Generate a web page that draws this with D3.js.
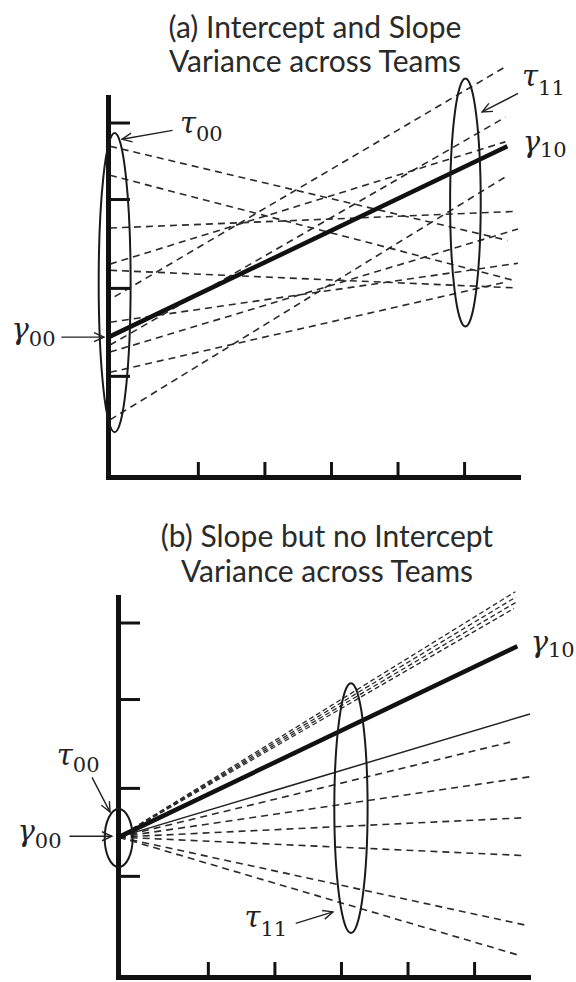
<!DOCTYPE html>
<html><head><meta charset="utf-8">
<script src="https://cdn.jsdelivr.net/npm/d3@7"></script>
<style>body{margin:0;background:#fff}svg{display:block}</style>
</head><body>
<script>
// ---------- data ----------
const xTicks = [1, 2, 3, 4, 5];
const yTicks = [1.15, 2.15, 3.16, 4.03];
const xDomain = [-0.35, 5.81];
const yDomain = [0, 4.32];

const titleA = ["(a) Intercept and Slope", "Variance across Teams"];
const titleB = ["(b) Slope but no Intercept", "Variance across Teams"];

// Panel (a): fixed line gamma00 -> gamma10 [x0, y0, x1, y1]
const aFixed = [-0.34, 1.59, 5.65, 3.76];
// Panel (a): team lines (intercept and slope vary)
const aStartX = [-0.32, -0.32, -0.32, -0.32, -0.32, -0.25, -0.32, -0.32, -0.32, -0.32, -0.32];
const aStartY = [3.76, 3.43, 2.83, 2.42, 2.35, 2.05, 1.76, 1.42, 1.19, 0.65, 1.50];
const aEndX   = [5.65, 5.77, 5.80, 5.62, 5.77, 5.59, 5.81, 5.81, 5.59, 5.66, 5.62];
const aEndY   = [2.69, 2.23, 3.02, 3.81, 2.15, 4.65, 2.43, 2.82, 2.21, 3.43, 4.09];
// Panel (a) ellipses
const aEllCx = [-0.25, 5.02];
const aEllCy = [2.21, 3.12];
const aEllRx = [0.24, 0.23];
const aEllRy = [1.70, 1.41];

// Panel (b): common origin, fixed line, thin solid line, team lines
const bOrigin = [-0.34, 1.59];
const bFixedEnd = [5.65, 3.76];
const bThinEnd = [5.84, 2.99];
const bEndX = [5.62, 5.63, 5.63, 5.60, 5.54, 5.87, 5.74, 5.77, 5.77, 5.66];
const bEndY = [4.38, 4.32, 4.26, 4.19, 2.67, 2.28, 1.81, 1.38, 0.59, 0.25];
const bFine = [true, true, true, true, false, false, false, false, false, false];
// Panel (b) ellipses
const bEllCx = [-0.34, 3.15];
const bEllCy = [1.58, 1.92];
const bEllRx = [0.21, 0.25];
const bEllRy = [0.33, 1.42];

// Annotations: [greek, subscript, x, y, subscript shift]
const aLabels = [["τ","00",0.73,3.91,8],["γ","00",-1.80,1.57,7],["τ","11",5.87,4.45,9],["γ","10",5.88,3.69,5]];
const bLabels = [["τ","00",-1.27,2.41,7],["γ","00",-1.86,1.55,7],["τ","11",1.55,0.57,9],["γ","10",5.85,3.69,5]];
// Arrows: [x0, y0, x1, y1]
const aArrows = [[0.62,3.94,-0.14,3.84],[-1.05,1.59,-0.41,1.59],[5.81,4.36,5.27,4.15]];
const bArrows = [[-0.74,2.27,-0.47,1.875],[-1.08,1.60,-0.44,1.60],[2.32,0.61,2.88,0.74]];

// ---------- drawing ----------
const W = 576, H = 982;
const svg = d3.select("body").append("svg").attr("width", W).attr("height", H);
svg.append("rect").attr("width", W).attr("height", H).attr("fill", "#fff");

const defs = svg.append("defs");
defs.append("marker").attr("id", "arr").attr("viewBox", "0 0 12 12")
  .attr("refX", 11).attr("refY", 6).attr("markerWidth", 12).attr("markerHeight", 12)
  .attr("markerUnits", "userSpaceOnUse").attr("orient", "auto")
  .append("path").attr("d", "M1,1.5 L11,6 L1,10.5").attr("fill", "none")
  .attr("stroke", "#222").attr("stroke-width", 1.4);

const x = d3.scaleLinear().domain(xDomain).range([108, 518]);
const y = d3.scaleLinear().domain(yDomain).range([477, 97]);
const line = d3.line().x(d => x(d[0])).y(d => y(d[1]));

function title(lines, cx, baselines, widths) {
  lines.forEach((t, i) => {
    const el = svg.append("text").attr("x", cx).attr("y", baselines[i])
      .attr("text-anchor", "middle").attr("font-family", "Lato, 'Open Sans', sans-serif")
      .attr("font-size", 26).attr("fill", "#2a2a2a").text(t);
    const w = el.node().getComputedTextLength();
    el.attr("font-size", Math.min(30, 26 * widths[i] / w));
  });
}
title(titleA, 315, [38, 72], [305, 298]);
title(titleB, 327, [547, 582], [347, 302]);

function axes(g) {
  const ax = g.append("g").attr("transform", `translate(0,${y(0)})`)
    .call(d3.axisBottom(x).tickValues(xTicks).tickSize(-15).tickSizeOuter(0).tickFormat(""));
  const ay = g.append("g").attr("transform", `translate(${x(xDomain[0])},0)`)
    .call(d3.axisLeft(y).tickValues(yTicks).tickSize(-22).tickSizeOuter(0).tickFormat(""));
  [ax, ay].forEach(a => {
    a.select(".domain").attr("stroke", "#111").attr("stroke-width", 5).attr("stroke-linecap", "square");
    a.selectAll(".tick line").attr("stroke", "#111").attr("stroke-width", 3);
  });
}

function ellipses(g, cx, cy, rx, ry) {
  cx.forEach((c, i) => {
    g.append("ellipse").attr("cx", x(c)).attr("cy", y(cy[i]))
      .attr("rx", x(c + rx[i]) - x(c)).attr("ry", y(cy[i] - ry[i]) - y(cy[i]))
      .attr("fill", "none").attr("stroke", "#1a1a1a").attr("stroke-width", 2);
  });
}

function labels(g, list) {
  list.forEach(([gr, sub, lx, ly, dy]) => {
    const t = g.append("text").attr("x", x(lx)).attr("y", y(ly))
      .attr("font-family", "'DejaVu Serif', serif").attr("fill", "#222");
    t.append("tspan").attr("font-size", 29).attr("font-style", "italic").text(gr);
    t.append("tspan").attr("font-size", 21).attr("dy", dy).text(sub);
  });
}

function arrows(g, list) {
  list.forEach(a => {
    g.append("path").attr("d", line([[a[0], a[1]], [a[2], a[3]]]))
      .attr("stroke", "#222").attr("stroke-width", 1.4).attr("fill", "none")
      .attr("marker-end", "url(#arr)");
  });
}

// Panel (a)
const gA = svg.append("g");
aStartX.forEach((sx, i) => {
  gA.append("path").attr("d", line([[sx, aStartY[i]], [aEndX[i], aEndY[i]]]))
    .attr("stroke", "#2a2a2a").attr("stroke-width", 1.6).attr("stroke-dasharray", "7,5").attr("fill", "none");
});
gA.append("path").attr("d", line([[aFixed[0], aFixed[1]], [aFixed[2], aFixed[3]]]))
  .attr("stroke", "#111").attr("stroke-width", 4.5).attr("fill", "none");
axes(gA);
ellipses(gA, aEllCx, aEllCy, aEllRx, aEllRy);
labels(gA, aLabels);
arrows(gA, aArrows);

// Panel (b)
const gB = svg.append("g").attr("transform", "translate(10,500)");
bEndX.forEach((ex, i) => {
  gB.append("path").attr("d", line([bOrigin, [ex, bEndY[i]]]))
    .attr("stroke", "#2a2a2a").attr("stroke-width", bFine[i] ? 1.3 : 1.6)
    .attr("stroke-dasharray", bFine[i] ? "5,3" : "7,5").attr("fill", "none");
});
gB.append("path").attr("d", line([bOrigin, bThinEnd]))
  .attr("stroke", "#222").attr("stroke-width", 1.5).attr("fill", "none");
gB.append("path").attr("d", line([bOrigin, bFixedEnd]))
  .attr("stroke", "#111").attr("stroke-width", 4.5).attr("fill", "none");
axes(gB);
ellipses(gB, bEllCx, bEllCy, bEllRx, bEllRy);
labels(gB, bLabels);
arrows(gB, bArrows);
</script>
</body></html>
